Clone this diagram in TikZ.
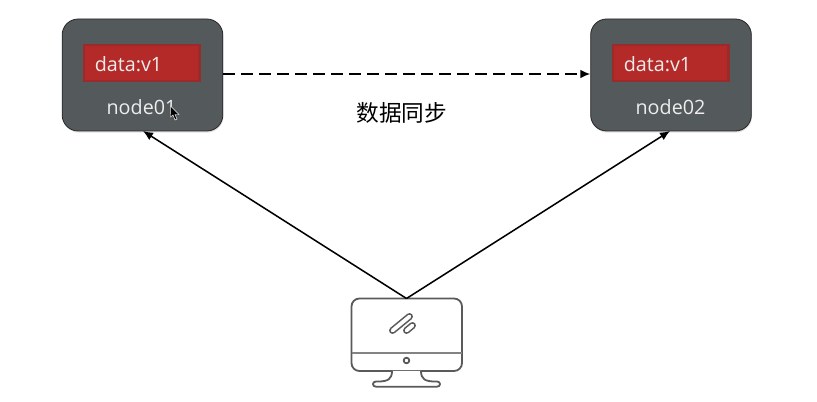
\documentclass[tikz,border=0pt]{standalone}
\usepackage{fontspec}
\setmainfont{Open Sans}
\newfontfamily\cjk{Noto Sans CJK SC}
\usetikzlibrary{arrows.meta,shadows,calc}
\definecolor{slatebox}{HTML}{54595B}
\definecolor{redbox}{HTML}{B32A28}
\definecolor{redbase}{HTML}{9A2B2A}
\definecolor{monline}{HTML}{5A5A5A}
\tikzset{
  x=0.75pt,y=-0.75pt,
  hostbox/.style={draw=black!85,line width=0.6pt,fill=slatebox,rounded corners=12,minimum width=120.5pt,minimum height=84pt,inner sep=0pt,drop shadow={shadow xshift=0.5pt,shadow yshift=-1.2pt,opacity=0.22}},
  databox/.style={fill=redbase,draw=none,minimum width=88.5pt,minimum height=28.5pt,inner sep=0pt},
  datacore/.style={fill=redbox,draw=none,minimum width=85pt,minimum height=25pt,inner sep=0pt},
  whitetext/.style={text=white!93!black,font=\fontsize{14.8}{17}\selectfont,inner sep=0pt},
  link/.style={draw=black,line width=1.15pt,-{Latex[length=7.5pt,width=6.5pt]}},
  mon/.style={draw=monline,line width=1.35pt,line join=round},
  pillout/.style={draw=monline,line width=5.2pt,line cap=round},
  pillin/.style={draw=white,line width=2.8pt,line cap=round}
}
\begin{document}
\begin{tikzpicture}
\useasboundingbox (0,0) rectangle (817,402);
\node[hostbox] (n1) at (142.5,75) {};
\node[hostbox] (n2) at (671,75) {};
\node[databox] (d1) at (141.5,63) {};
\node[databox] (d2) at (670.5,63) {};
\node[datacore] (c1) at (141.5,63) {};
\node[datacore] (c2) at (670.5,63) {};
\node[whitetext,anchor=west] (t1) at (94.5,64) {data:v1};
\node[whitetext,anchor=west] (t2) at (623.5,64) {data:v1};
\node[whitetext] (l1) at (141.5,107) {node01};
\node[whitetext] (l2) at (670.5,107) {node02};
\node[font=\cjk\fontsize{17}{19}\selectfont,inner sep=0pt] (sync) at (401.8,113) {数据同步};
% mouse pointer
\fill[black,draw=white,line width=0.35pt] (170.5,106) -- (170.5,117) -- (173,115) -- (175,120) -- (177,119) -- (175,114.5) -- (179,114.5) -- cycle;
% monitor
\coordinate (scr) at (406.5,298.5);
\draw[mon,rounded corners=6] (351.5,298.5) rectangle (462,371);
\draw[mon,draw=monline!75] (351.5,353) -- (462,353);
\draw[mon] (406.5,360.5) circle (2.8);
\draw[mon,fill=white] (392,371) .. controls (392,379) and (388,381.5) .. (378,381.5) -- (376,381.5) .. controls (372,381.5) and (372,386.7) .. (376,386.7) -- (437,386.7) .. controls (441,386.7) and (441,381.5) .. (437,381.5) -- (435,381.5) .. controls (425,381.5) and (421,379) .. (421,371);
% logo pills
\draw[pillout] (392.5,330.5) -- (409.5,316.5);
\draw[pillin] (392.5,330.5) -- (409.5,316.5);
\draw[pillout] (406.5,330.5) -- (412.5,325.5);
\draw[pillin] (406.5,330.5) -- (412.5,325.5);
\coordinate (a1) at (143,131);
\coordinate (a2) at (670,131);
\draw[link] (scr) -- (a1);
\draw[link] (scr) -- (a2);
\draw[link,dash pattern=on 8.5pt off 5pt] (n1.east |- 0,74) -- (n2.west |- 0,74);
\end{tikzpicture}
\end{document}
